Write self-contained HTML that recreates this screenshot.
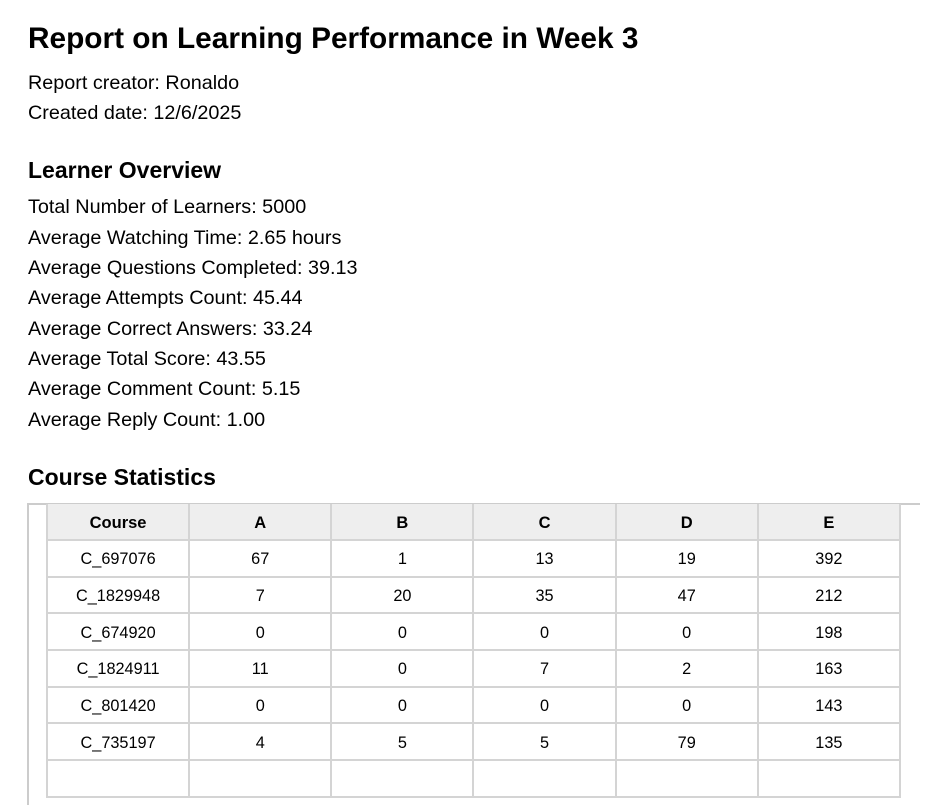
<!DOCTYPE html>
<html><head><meta charset="utf-8"><style>
body{margin:0;width:925px;height:767px;overflow:hidden;background:#fff;font-family:"Liberation Sans",sans-serif;color:#000;position:relative}
.t{position:absolute;left:28px;white-space:nowrap}
h1{position:absolute;left:28px;top:22px;margin:0;font-size:29.8px;font-weight:bold}
h2{position:absolute;left:28px;margin:0;font-size:23px;font-weight:bold}
.l{font-size:19.8px}
#box{position:absolute;left:27px;top:503px;width:891px;height:300px;border-top:2px solid #ccc;border-left:2px solid #ccc}
table{position:absolute;left:46px;top:504px;border-collapse:collapse;table-layout:fixed;width:855px}
td,th{border:2px solid #d4d4d4;text-align:center;font-size:16.3px;padding:3px 0 0 0;width:140px}
tr{height:36.7px}
tr.h{height:36px}
th{background:#eee;font-weight:bold;font-size:16.5px;border-top:none}
</style></head><body>
<h1>Report on Learning Performance in Week 3</h1>
<div class="t l" style="top:72px">Report creator: Ronaldo</div>
<div class="t l" style="top:102px">Created date: 12/6/2025</div>
<h2 style="top:157px">Learner Overview</h2>
<div class="t l" style="top:196px">Total Number of Learners: 5000</div>
<div class="t l" style="top:227px">Average Watching Time: 2.65 hours</div>
<div class="t l" style="top:257px">Average Questions Completed: 39.13</div>
<div class="t l" style="top:287px">Average Attempts Count: 45.44</div>
<div class="t l" style="top:318px">Average Correct Answers: 33.24</div>
<div class="t l" style="top:348px">Average Total Score: 43.55</div>
<div class="t l" style="top:378px">Average Comment Count: 5.15</div>
<div class="t l" style="top:409px">Average Reply Count: 1.00</div>
<h2 style="top:464px">Course Statistics</h2>
<div id="box"></div>
<table>
<tr class="h"><th>Course</th><th>A</th><th>B</th><th>C</th><th>D</th><th>E</th></tr>
<tr><td>C_697076</td><td>67</td><td>1</td><td>13</td><td>19</td><td>392</td></tr>
<tr><td>C_1829948</td><td>7</td><td>20</td><td>35</td><td>47</td><td>212</td></tr>
<tr><td>C_674920</td><td>0</td><td>0</td><td>0</td><td>0</td><td>198</td></tr>
<tr><td>C_1824911</td><td>11</td><td>0</td><td>7</td><td>2</td><td>163</td></tr>
<tr><td>C_801420</td><td>0</td><td>0</td><td>0</td><td>0</td><td>143</td></tr>
<tr><td>C_735197</td><td>4</td><td>5</td><td>5</td><td>79</td><td>135</td></tr>
<tr><td></td><td></td><td></td><td></td><td></td><td></td></tr>
</table>
</body></html>
